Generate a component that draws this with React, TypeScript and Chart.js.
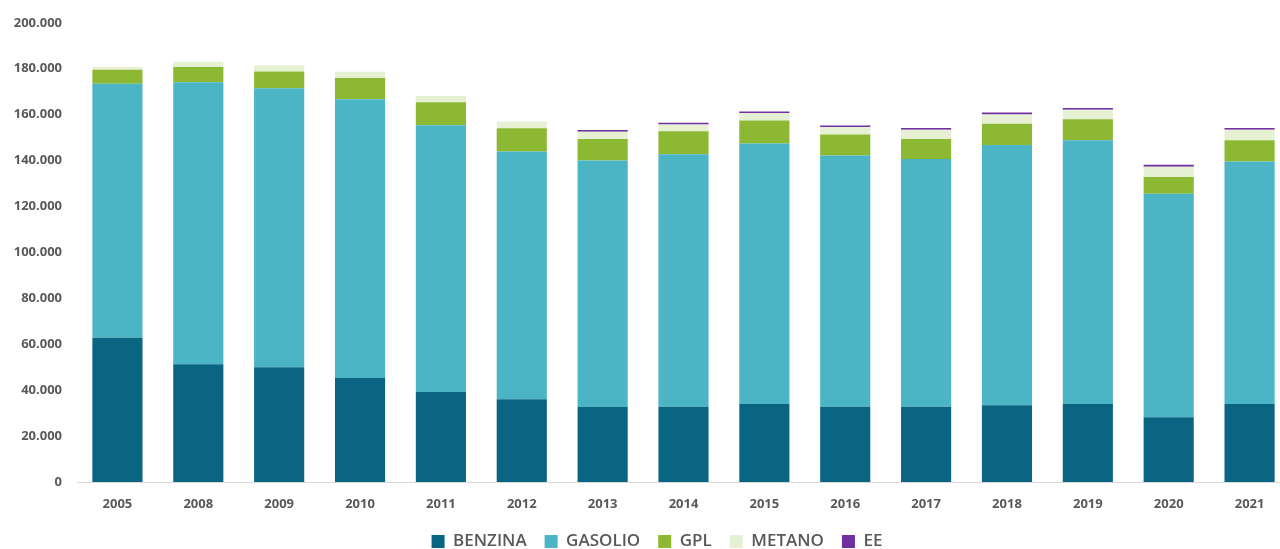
import React, { useEffect, useRef } from "react";
import { Chart, registerables } from "chart.js";

Chart.register(...registerables);

const years = ["2005", "2008", "2009", "2010", "2011", "2012", "2013", "2014", "2015", "2016", "2017", "2018", "2019", "2020", "2021"];
const benzina = [62800, 51300, 50000, 45300, 39200, 36000, 32700, 32800, 34000, 32800, 32800, 33400, 34000, 28200, 34000];
const gasolio = [110600, 122800, 121500, 121400, 116200, 107900, 107300, 109900, 113400, 109400, 107900, 113400, 114800, 97300, 105600];
const gpl = [6200, 6700, 7300, 9300, 10000, 10200, 9400, 10100, 10000, 9200, 8700, 9200, 9200, 7300, 9200];
const metano = [1300, 2200, 2700, 2700, 2700, 2900, 3200, 2900, 3300, 3200, 4000, 4100, 4100, 4500, 4600];
const ee = [0, 0, 0, 0, 0, 0, 700, 800, 700, 700, 800, 800, 800, 900, 800];

const seriesNames = ["BENZINA", "GASOLIO", "GPL", "METANO", "EE"];
const seriesColors = ["#0a6583", "#4bb4c5", "#8cb833", "#e6f1d4", "#7030a0"];

const fmt = (v: number) => String(Math.round(v)).replace(/\B(?=(\d{3})+(?!\d))/g, ".");

const legendShift = {
  id: "legendShift",
  afterLayout(chart: any) {
    if (chart.legend) chart.legend.left += 24;
  },
};

export default function App() {
  const ref = useRef<HTMLCanvasElement>(null);
  useEffect(() => {
    if (!ref.current) return;
    const values = [benzina, gasolio, gpl, metano, ee];
    const chart = new Chart(ref.current, {
      type: "bar",
      data: {
        labels: years,
        datasets: values.map((d, i) => ({
          label: seriesNames[i],
          data: d,
          backgroundColor: seriesColors[i],
          borderWidth: 0,
          categoryPercentage: 1,
          barPercentage: 0.62,
        })),
      },
      plugins: [legendShift],
      options: {
        responsive: false,
        animation: false,
        devicePixelRatio: 1,
        layout: { padding: { top: 20, right: 10, left: 0, bottom: 0 } },
        plugins: {
          tooltip: { enabled: false },
          legend: {
            position: "bottom",
            labels: {
              boxWidth: 13,
              boxHeight: 13,
              padding: 18,
              color: "#595959",
              font: { family: "'Open Sans', sans-serif", size: 17, weight: "600" },
            },
          },
        },
        scales: {
          x: {
            stacked: true,
            grid: { display: false, drawTicks: false },
            border: { display: true, color: "#d9d9d9", width: 1 },
            ticks: {
              color: "#595959",
              padding: 14,
              font: { family: "'Open Sans', sans-serif", size: 13, weight: "bold" },
            },
            afterFit: (s: any) => {
              s.height = 33;
            },
          },
          y: {
            stacked: true,
            min: 0,
            max: 200000,
            grid: { display: false, drawTicks: false },
            border: { display: false },
            ticks: {
              stepSize: 20000,
              color: "#595959",
              padding: 15,
              font: { family: "'Open Sans', sans-serif", size: 13, weight: "bold" },
              callback: (v: any) => fmt(Number(v)),
            },
            afterFit: (s: any) => {
              s.width = 77;
            },
          },
        },
      },
    });
    return () => chart.destroy();
  }, []);
  return (
    <div style={{ position: "absolute", left: 0, top: 0, width: 1280, height: 549, overflow: "hidden", background: "#fff" }}>
      <canvas ref={ref} width={1300} height={560} style={{ display: "block" }} />
    </div>
  );
}
